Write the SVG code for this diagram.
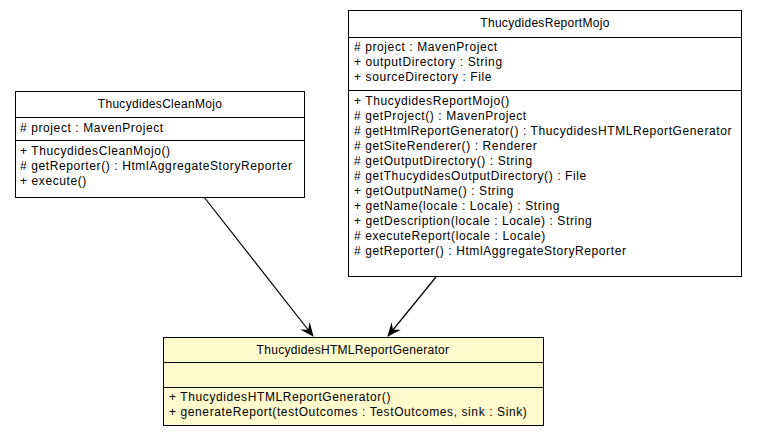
<svg xmlns="http://www.w3.org/2000/svg" width="757" height="437" viewBox="0 0 757 437">
<style>
text{font-family:"Liberation Sans",Arial,sans-serif;font-size:12px;letter-spacing:0.6px;fill:#000}
.t{text-anchor:middle;font-size:12px;letter-spacing:0.3px}
.b{fill:#fff;stroke:#000;stroke-width:1}
.y{fill:#fffacd;stroke:#000;stroke-width:1}
line.d{stroke:#000;stroke-width:1}
.e{stroke:#000;stroke-width:1.2;fill:none}
</style>
<defs>
<marker id="v" viewBox="0 0 14 12" refX="13" refY="6" markerWidth="14" markerHeight="12" markerUnits="userSpaceOnUse" orient="auto">
<path d="M0,0 L14,6 L0,12 L5,6 Z" fill="#000"/>
</marker>
</defs>
<rect width="757" height="437" fill="#fff"/>
<g id="edges">
<path class="e" d="M204,197 L313,336" marker-end="url(#v)"/>
<path class="e" d="M436,277 L388,336" marker-end="url(#v)"/>
</g>
<g id="ThucydidesCleanMojo">
<rect class="b" x="15.5" y="91.5" width="289" height="106"/>
<line class="d" x1="15.5" y1="117.5" x2="304.5" y2="117.5"/>
<line class="d" x1="15.5" y1="140.5" x2="304.5" y2="140.5"/>
<text class="t" x="160" y="108">ThucydidesCleanMojo</text>
<text x="20" y="132"># project : MavenProject</text>
<text x="20" y="155">+ ThucydidesCleanMojo()</text>
<text x="20" y="170"># getReporter() : HtmlAggregateStoryReporter</text>
<text x="20" y="185">+ execute()</text>
</g>
<g id="ThucydidesReportMojo">
<rect class="b" x="348.5" y="10.5" width="393" height="266"/>
<line class="d" x1="348.5" y1="37.5" x2="741.5" y2="37.5"/>
<line class="d" x1="348.5" y1="90.5" x2="741.5" y2="90.5"/>
<text class="t" x="545" y="27">ThucydidesReportMojo</text>
<text x="354" y="51"># project : MavenProject</text>
<text x="354" y="66">+ outputDirectory : String</text>
<text x="354" y="81">+ sourceDirectory : File</text>
<text x="354" y="105">+ ThucydidesReportMojo()</text>
<text x="354" y="120"># getProject() : MavenProject</text>
<text x="354" y="135"># getHtmlReportGenerator() : ThucydidesHTMLReportGenerator</text>
<text x="354" y="150"># getSiteRenderer() : Renderer</text>
<text x="354" y="165"># getOutputDirectory() : String</text>
<text x="354" y="180"># getThucydidesOutputDirectory() : File</text>
<text x="354" y="195">+ getOutputName() : String</text>
<text x="354" y="210">+ getName(locale : Locale) : String</text>
<text x="354" y="225">+ getDescription(locale : Locale) : String</text>
<text x="354" y="240"># executeReport(locale : Locale)</text>
<text x="354" y="255"># getReporter() : HtmlAggregateStoryReporter</text>
</g>
<g id="ThucydidesHTMLReportGenerator">
<rect class="y" x="163.5" y="337.5" width="380" height="88"/>
<line class="d" x1="163.5" y1="362.5" x2="543.5" y2="362.5"/>
<line class="d" x1="163.5" y1="387.5" x2="543.5" y2="387.5"/>
<text class="t" x="353" y="354">ThucydidesHTMLReportGenerator</text>
<text x="169" y="401">+ ThucydidesHTMLReportGenerator()</text>
<text x="169" y="416">+ generateReport(testOutcomes : TestOutcomes, sink : Sink)</text>
</g>
</svg>
